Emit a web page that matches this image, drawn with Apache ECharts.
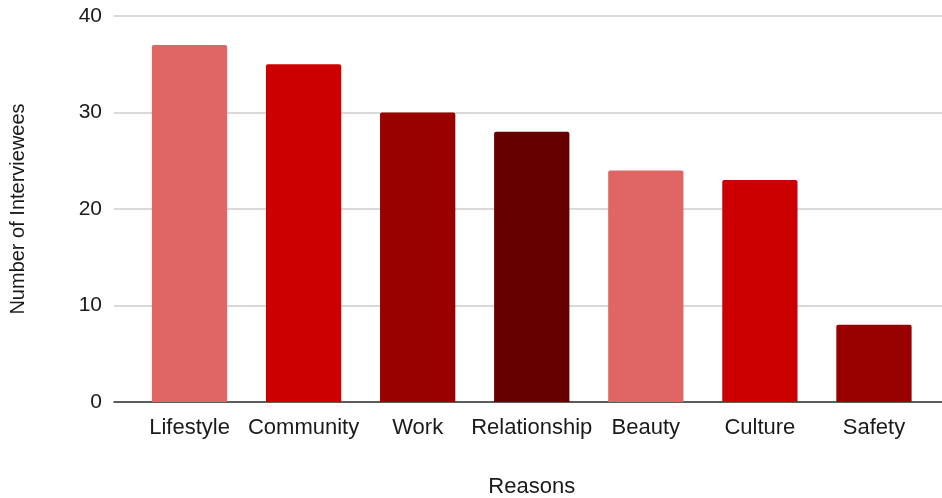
<!DOCTYPE html>
<html><head><meta charset="utf-8">
<script src="https://cdn.jsdelivr.net/npm/echarts@6/dist/echarts.min.js"></script>
<style>html,body{margin:0;padding:0;background:#fff}#c{width:942px;height:498px}</style>
</head><body><div id="c"></div>
<script>
const categories = ["Lifestyle","Community","Work","Relationship","Beauty","Culture","Safety"];
const values = [37, 35, 30, 28, 24, 23, 8];
const barColors = ["#e06666","#cc0000","#990000","#660000","#e06666","#cc0000","#990000"];
const yTicks = { min: 0, max: 40, interval: 10 };

const font = "Liberation Sans, Arial, sans-serif";
const chart = echarts.init(document.getElementById('c'), null, {renderer:'canvas'});
chart.setOption({
  animation: false,
  grid: [
    {left: 114, right: 0, top: 16, bottom: 96, outerBoundsMode: 'none', containLabel: false},
    {left: 132.5, right: 11, top: 16, bottom: 96, outerBoundsMode: 'none', containLabel: false}
  ],
  xAxis: [
    {gridIndex: 0, type: 'value', min: 0, max: 1, show: true,
     axisLine: {show: true, lineStyle: {color: '#333', width: 1.5}},
     axisTick: {show: false}, axisLabel: {show: false}, splitLine: {show: false}},
    {gridIndex: 1, type: 'category', data: categories,
     axisLine: {show: false}, axisTick: {show: false},
     axisLabel: {fontFamily: font, fontSize: 22, color: '#1a1a1a', margin: 15, interval: 0},
     name: 'Reasons', nameLocation: 'middle', nameGap: 74,
     nameTextStyle: {fontFamily: font, fontSize: 22, color: '#1a1a1a'}}
  ],
  yAxis: [
    {gridIndex: 0, type: 'value', min: yTicks.min, max: yTicks.max, interval: yTicks.interval,
     axisLine: {show: false}, axisTick: {show: false},
     axisLabel: {fontFamily: font, fontSize: 21, color: '#1a1a1a', margin: 12},
     splitLine: {lineStyle: {color: '#cccccc', width: 1.5}},
     name: 'Number of Interviewees', nameLocation: 'middle', nameGap: 86,
     nameTextStyle: {fontFamily: font, fontSize: 20, color: '#1a1a1a'}},
    {gridIndex: 1, type: 'value', min: yTicks.min, max: yTicks.max, interval: yTicks.interval,
     show: false, splitLine: {show: false}}
  ],
  series: [{
    type: 'bar', xAxisIndex: 1, yAxisIndex: 1,
    barWidth: '66%',
    data: values.map((v, i) => ({value: v, itemStyle: {color: barColors[i]}})),
    itemStyle: {borderRadius: [2, 2, 0, 0]}
  }]
});
</script></body></html>
